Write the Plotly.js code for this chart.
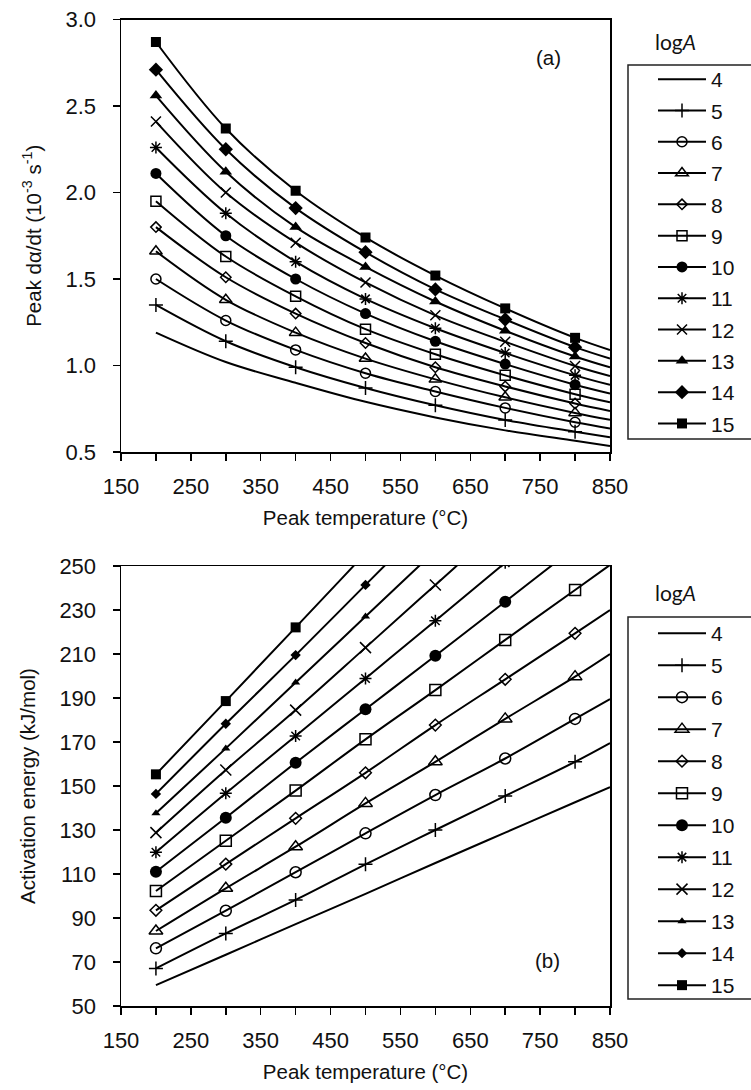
<!DOCTYPE html>
<html><head><meta charset="utf-8">
<script src="https://cdn.plot.ly/plotly-3.0.1.min.js"></script>
<style>html,body{margin:0;padding:0;background:#fff}#chart{width:751px;height:1090px}</style>
</head><body><div id="chart"></div>
<script>
// ---------- data ----------
const logA = [4, 5, 6, 7, 8, 9, 10, 11, 12, 13, 14, 15];
const temps = [200, 300, 400, 500, 600, 700, 800, 850];   // °C (markers up to 800, curves to 850)
const xTickVals = [150, 250, 350, 450, 550, 650, 750, 850];
const xTickText = ['150', '250', '350', '450', '550', '650', '750', '850'];

// (a) peak dα/dt (10^-3 s^-1)
const rate4  = [1.19, 1.02, 0.90, 0.79, 0.70, 0.625, 0.565, 0.535];
const rate5  = [1.35, 1.14, 0.99, 0.87, 0.77, 0.685, 0.617, 0.585];
const rate6  = [1.50, 1.26, 1.09, 0.955, 0.85, 0.755, 0.672, 0.636];
const rate7  = [1.66, 1.38, 1.19, 1.04, 0.92, 0.816, 0.726, 0.686];
const rate8  = [1.80, 1.51, 1.30, 1.13, 0.99, 0.879, 0.780, 0.737];
const rate9  = [1.95, 1.63, 1.40, 1.21, 1.065, 0.943, 0.834, 0.787];
const rate10 = [2.11, 1.75, 1.50, 1.30, 1.14, 1.008, 0.889, 0.838];
const rate11 = [2.26, 1.88, 1.60, 1.385, 1.215, 1.072, 0.943, 0.888];
const rate12 = [2.41, 2.00, 1.71, 1.48, 1.29, 1.137, 0.997, 0.939];
const rate13 = [2.56, 2.12, 1.80, 1.57, 1.37, 1.201, 1.052, 0.989];
const rate14 = [2.71, 2.25, 1.91, 1.655, 1.44, 1.266, 1.106, 1.040];
const rate15 = [2.87, 2.37, 2.01, 1.74, 1.52, 1.33, 1.16, 1.09];

// (b) activation energy (kJ/mol)
const energy4  = [59.5, 73.3, 87.2, 101.0, 115.0, 128.8, 142.6, 149.5];
const energy5  = [67.1, 83.0, 98.2, 114.4, 130.0, 145.5, 161.0, 169.5];
const energy6  = [76.2, 93.3, 110.8, 128.5, 145.9, 162.5, 180.5, 189.5];
const energy7  = [84.1, 103.5, 122.4, 142.1, 161.0, 180.5, 199.7, 210.0];
const energy8  = [93.5, 114.5, 135.3, 156.0, 177.7, 198.5, 219.4, 230.0];
const energy9  = [102.3, 125.1, 147.9, 171.2, 193.6, 216.4, 239.1, 250.5];
const energy10 = [111.0, 135.6, 160.6, 184.9, 209.2, 233.8, 258.5, 271.0];
const energy11 = [119.9, 146.7, 172.7, 198.9, 225.1, 251.5, 278.0, 291.3];
const energy12 = [128.8, 157.3, 184.5, 212.9, 241.4, 269.9, 298.5, 312.9];
const energy13 = [137.6, 167.1, 197.0, 227.0, 257.0, 287.0, 317.2, 332.4];
const energy14 = [146.4, 178.3, 209.5, 241.4, 273.3, 305.3, 337.5, 353.7];
const energy15 = [155.3, 188.6, 222.1, 255.8, 289.5, 323.5, 357.5, 374.6];

const rateSeries = [rate4, rate5, rate6, rate7, rate8, rate9, rate10, rate11, rate12, rate13, rate14, rate15];
const energySeries = [energy4, energy5, energy6, energy7, energy8, energy9, energy10, energy11, energy12, energy13, energy14, energy15];

// ---------- styles ----------
const symbols = [null, 'cross-thin-open', 'circle-open', 'triangle-up-open', 'diamond-open', 'square-open',
                 'circle', 'asterisk-open', 'x-thin-open', 'triangle-up', 'diamond', 'square'];
const sizesA = [0, 10, 10, 11, 8, 10, 11, 10, 10, 11, 11, 10];
const sizesB = [0, 10, 11, 12, 9, 11, 12, 10, 11, 8, 8, 10];
const FONT = 'Liberation Sans, Arial, sans-serif';
const TXT = '#111';
const W = 751, H = 1090;
const px = v => v / W;
const py = v => 1 - v / H;

function makeTraces(seriesList, xa, ya, leg, sizes, grp) {
  return seriesList.map((ys, i) => {
    const hasMarker = symbols[i] !== null;
    const colors = temps.map(t => t <= 800 ? '#000' : 'rgba(0,0,0,0)');
    const t = {
      x: temps, y: ys, xaxis: xa, yaxis: ya, legend: leg,
      name: String(logA[i]), legendgroup: grp + logA[i],
      type: 'scatter', mode: hasMarker ? 'lines+markers' : 'lines',
      line: {color: '#000', width: 2, shape: 'spline', smoothing: 1},
      hoverinfo: 'x+y+name'
    };
    if (hasMarker) {
      const open = symbols[i].endsWith('open');
      t.marker = {symbol: symbols[i], size: sizes[i], color: colors,
                  line: {width: open ? 1.5 : 0}};
    }
    return t;
  });
}

const data = [
  ...makeTraces(rateSeries, 'x', 'y', 'legend', sizesA, 'a'),
  ...makeTraces(energySeries, 'x2', 'y2', 'legend2', sizesB, 'b')
];

const axisCommon = {
  showgrid: false, zeroline: false, showline: true, linecolor: '#000', linewidth: 1.5,
  mirror: true, ticks: 'outside', ticklen: 7, tickwidth: 1.5, tickcolor: '#000',
  tickfont: {family: FONT, size: 22, color: TXT}
};
const xCommon = Object.assign({}, axisCommon, {
  range: [150, 850], tickmode: 'array', tickvals: xTickVals, ticktext: xTickText,
  minor: {tick0: 150, dtick: 50, ticks: 'outside', ticklen: 7, tickwidth: 1.5, tickcolor: '#000', showgrid: false},
  domain: [px(121), px(610)], ticklabelstandoff: 7,
  title: {text: 'Peak temperature (°C)', font: {family: FONT, size: 20.5, color: TXT}, standoff: 12}
});

const legendCommon = {
  xanchor: 'left', yanchor: 'top', bgcolor: 'rgba(0,0,0,0)', borderwidth: 0,
  font: {family: FONT, size: 21, color: TXT}, itemwidth: 48,
  traceorder: 'grouped', itemclick: false
};

const layout = {
  width: W, height: H, margin: {l: 0, r: 0, t: 0, b: 0},
  paper_bgcolor: '#fff', plot_bgcolor: '#fff', showlegend: true,
  font: {family: FONT, color: TXT},
  xaxis: Object.assign({}, xCommon, {anchor: 'y'}),
  yaxis: Object.assign({}, axisCommon, {
    anchor: 'x', domain: [py(452), py(19.5)], range: [0.5, 3.0], dtick: 0.5, tick0: 0.5,
    tickformat: '.1f', ticklabelstandoff: 12,
    title: {text: 'Peak dα/dt (10<sup>-3</sup> s<sup>-1</sup>)', font: {family: FONT, size: 20.5, color: TXT}, standoff: 18}
  }),
  xaxis2: Object.assign({}, xCommon, {anchor: 'y2'}),
  yaxis2: Object.assign({}, axisCommon, {
    anchor: 'x2', domain: [py(1006), py(566)], range: [50, 250], dtick: 20, tick0: 50,
    ticklabelstandoff: 12,
    title: {text: 'Activation energy (kJ/mol)', font: {family: FONT, size: 20.5, color: TXT}, standoff: 18}
  }),
  legend: Object.assign({}, legendCommon, {x: px(653), y: py(59), tracegroupgap: 1}),
  legend2: Object.assign({}, legendCommon, {x: px(653), y: py(613), tracegroupgap: 1.7}),
  shapes: [
    {type: 'rect', xref: 'paper', yref: 'paper', x0: px(628), x1: px(770), y0: py(439), y1: py(65),
     line: {color: '#222', width: 1.5}, fillcolor: 'rgba(0,0,0,0)'},
    {type: 'rect', xref: 'paper', yref: 'paper', x0: px(628), x1: px(770), y0: py(999), y1: py(617),
     line: {color: '#222', width: 1.5}, fillcolor: 'rgba(0,0,0,0)'}
  ],
  annotations: [
    {text: '(a)', xref: 'paper', yref: 'paper', x: px(548), y: py(58), xanchor: 'center', yanchor: 'middle',
     showarrow: false, font: {family: FONT, size: 20.5, color: TXT}},
    {text: '(b)', xref: 'paper', yref: 'paper', x: px(547), y: py(960), xanchor: 'center', yanchor: 'middle',
     showarrow: false, font: {family: FONT, size: 20.5, color: TXT}},
    {text: 'log<i>A</i>', xref: 'paper', yref: 'paper', x: px(675), y: py(42), xanchor: 'center', yanchor: 'middle',
     showarrow: false, font: {family: 'Lato, sans-serif', size: 21, color: TXT}},
    {text: 'log<i>A</i>', xref: 'paper', yref: 'paper', x: px(675), y: py(592), xanchor: 'center', yanchor: 'middle',
     showarrow: false, font: {family: 'Lato, sans-serif', size: 21, color: TXT}}
  ]
};

Plotly.newPlot('chart', data, layout, {displayModeBar: false, staticPlot: true});
</script>
</body></html>
